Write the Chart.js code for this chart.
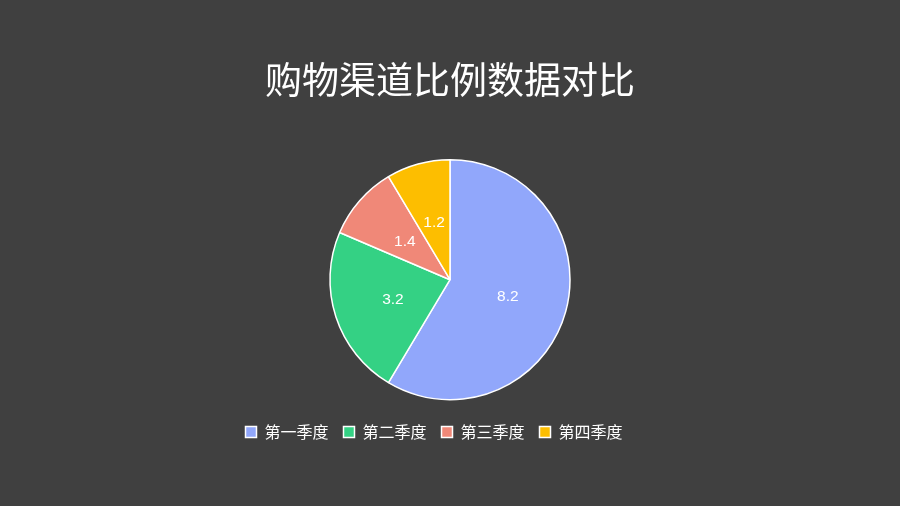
<!DOCTYPE html>
<html><head><meta charset="utf-8">
<script src="https://cdn.jsdelivr.net/npm/chart.js@4/dist/chart.umd.min.js"></script>
<style>html,body{margin:0;padding:0;background:#404040;}#wrap{width:900px;height:506px;}</style>
</head><body><div id="wrap"><canvas id="c" width="900" height="506"></canvas></div>
<script>
const titleText = "购物渠道比例数据对比";
const categories = ["第一季度", "第二季度", "第三季度", "第四季度"];
const values = [8.2, 3.2, 1.4, 1.2];
const colors = ["#91a7fb", "#34d184", "#f08878", "#fdbe00"];

const labelPlugin = {
  id: 'sliceLabels',
  afterLayout(chart) {
    const lg = chart.legend;
    if (lg) { lg.left -= 16; lg.right -= 16; }
  },
  afterDatasetsDraw(chart) {
    const ctx = chart.ctx;
    const meta = chart.getDatasetMeta(0);
    ctx.save();
    ctx.font = '15.5px "Liberation Sans", Arial, sans-serif';
    ctx.fillStyle = '#ffffff';
    ctx.textAlign = 'center';
    ctx.textBaseline = 'middle';
    meta.data.forEach((arc, i) => {
      const p = arc.tooltipPosition();
      ctx.fillText(String(values[i]), p.x, p.y + 1);
    });
    ctx.restore();
  }
};

new Chart(document.getElementById('c'), {
  type: 'pie',
  data: {
    labels: categories,
    datasets: [{
      data: values,
      backgroundColor: colors,
      borderColor: '#ffffff',
      borderWidth: 1.5,
      radius: 120
    }]
  },
  options: {
    responsive: false,
    animation: false,
    layout: { padding: { bottom: 56 } },
    plugins: {
      title: {
        display: true,
        text: titleText,
        color: '#ffffff',
        font: { size: 37, weight: 'normal', family: '"Noto Sans CJK SC", sans-serif' },
        padding: { top: 58, bottom: 48 }
      },
      legend: {
        position: 'bottom',
        labels: {
          color: '#ffffff',
          boxWidth: 11,
          boxHeight: 11,
          padding: 15,
          font: { size: 16, family: '"Noto Sans CJK SC", sans-serif' }
        }
      },
      tooltip: { enabled: false }
    }
  },
  plugins: [labelPlugin]
});
</script></body></html>
